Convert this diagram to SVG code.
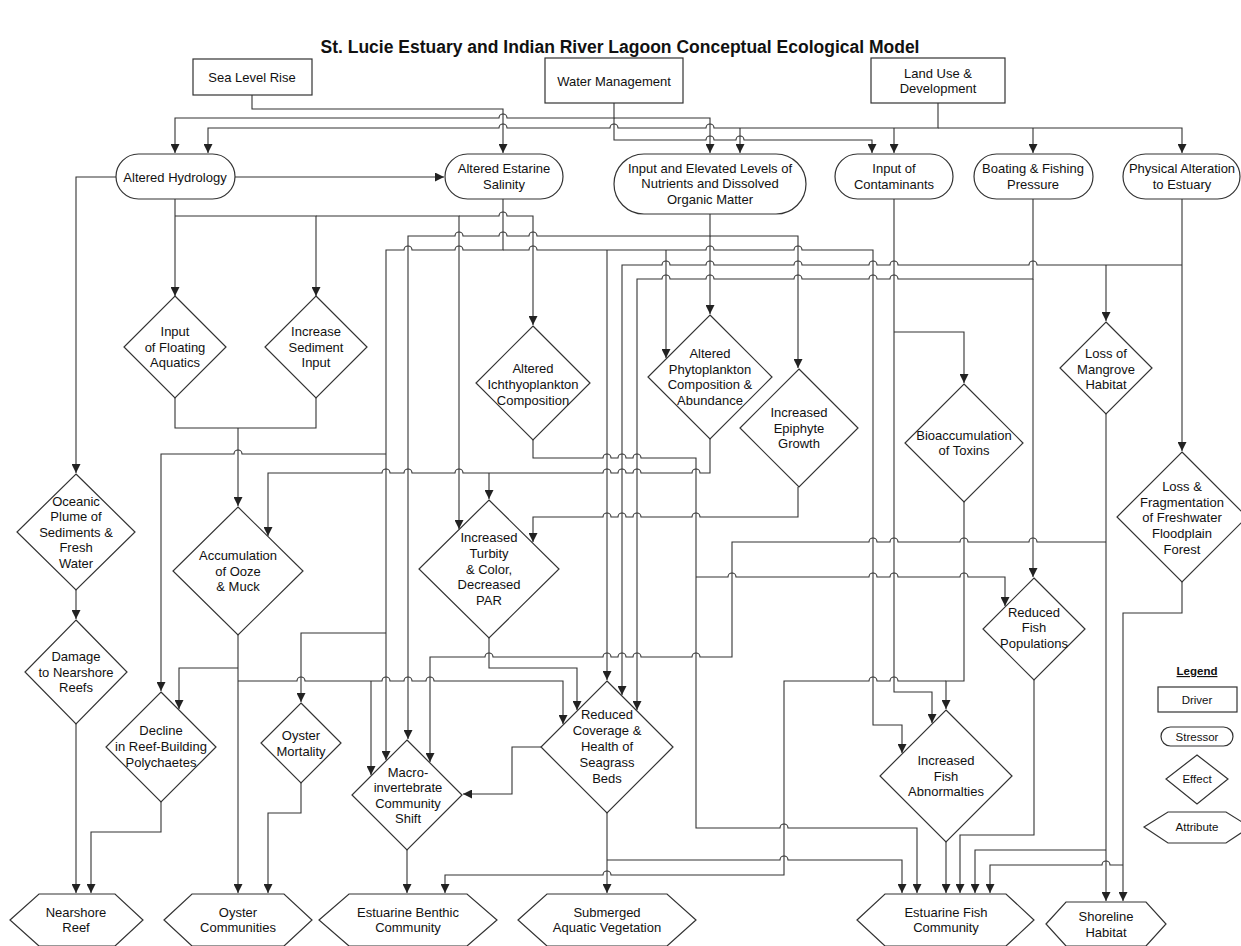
<svg xmlns="http://www.w3.org/2000/svg" width="1241" height="946" viewBox="0 0 1241 946">
<style>
.n{fill:#fff;stroke:#333;stroke-width:1.2}
.t{font-family:"Liberation Sans",Arial,sans-serif;font-size:13px;fill:#111;text-anchor:middle}
.lg{font-size:11.5px}
.c{fill:none;stroke:#333;stroke-width:1.1}
.a{marker-end:url(#ah)}
</style>
<defs>
<marker id="ah" viewBox="0 0 10 10" refX="10" refY="5" markerWidth="9" markerHeight="9" markerUnits="userSpaceOnUse" orient="auto"><path d="M0,0 L10,5 L0,10 z" fill="#222"/></marker>
</defs>
<rect width="1241" height="946" fill="#fff"/>
<text x="620" y="53" style="font-family:'Liberation Sans',Arial,sans-serif;font-size:17.5px;font-weight:bold;fill:#111;text-anchor:middle">St. Lucie Estuary and Indian River Lagoon Conceptual Ecological Model</text>

<g id="connectors">
<path class="c a" d="M252,95 V109 H503 V153"/>
<path class="c a" d="M614,103 V118 H507 a4,4 0 0 0 -8,0 H175 V153"/>
<path class="c a" d="M614,118 H710 V153"/>
<path class="c a" d="M614,118 V140 H706 a4,4 0 0 1 8,0 H736 a4,4 0 0 1 8,0 H872 V153"/>
<path class="c a" d="M938,103 V128 H714 a4,4 0 0 0 -8,0 H618 a4,4 0 0 0 -8,0 H507 a4,4 0 0 0 -8,0 H208 V153"/>
<path class="c a" d="M740,128 V153"/>
<path class="c a" d="M938,128 H1182 V153"/>
<path class="c a" d="M894,128 V153"/>
<path class="c a" d="M1033,128 V153"/>
<path class="c a" d="M235,177 H444"/>
<path class="c a" d="M116,177 H76 V473"/>
<path class="c a" d="M175,199 V296"/>
<path class="c a" d="M175,216 H316 V296"/>
<path class="c a" d="M316,216 H459 V529"/>
<path class="c a" d="M459,216 H499 a4,4 0 0 1 8,0 H533 V325"/>
<path class="c a" d="M503,199 V250 H463 a4,4 0 0 0 -8,0 H412 a4,4 0 0 0 -8,0 H386 V760"/>
<path class="c a" d="M386,454 H242 a4,4 0 0 0 -8,0 H161 V691"/>
<path class="c a" d="M386,633 H301 V702"/>
<path class="c a" d="M503,250 H529 a4,4 0 0 1 8,0 H706 a4,4 0 0 1 8,0 H794 a4,4 0 0 1 8,0 H873 V725 H902 V753"/>
<path class="c a" d="M607,250 V680"/>
<path class="c a" d="M666,250 V358"/>
<path class="c a" d="M710,214 V236 H537 a4,4 0 0 0 -8,0 H507 a4,4 0 0 0 -8,0 H463 a4,4 0 0 0 -8,0 H408 V739"/>
<path class="c a" d="M710,236 H798 V368"/>
<path class="c a" d="M710,236 V314"/>
<path class="c a" d="M1182,199 V451"/>
<path class="c a" d="M1182,265 H1037 a4,4 0 0 0 -8,0 H898 a4,4 0 0 0 -8,0 H877 a4,4 0 0 0 -8,0 H802 a4,4 0 0 0 -8,0 H714 a4,4 0 0 0 -8,0 H670 a4,4 0 0 0 -8,0 H622 V695"/>
<path class="c a" d="M1106,265 V321"/>
<path class="c a" d="M1033,199 V279 H898 a4,4 0 0 0 -8,0 H877 a4,4 0 0 0 -8,0 H802 a4,4 0 0 0 -8,0 H714 a4,4 0 0 0 -8,0 H670 a4,4 0 0 0 -8,0 H637 V710"/>
<path class="c a" d="M1033,279 V577"/>
<path class="c a" d="M894,199 V692 H932 V723"/>
<path class="c a" d="M894,332 H964 V383"/>
<path class="c a" d="M533,440 V458 H603 a4,4 0 0 1 8,0 H618 a4,4 0 0 1 8,0 H633 a4,4 0 0 1 8,0 H696 V828 H780 a4,4 0 0 1 8,0 H917 V893"/>
<path class="c a" d="M696,577 H728 a4,4 0 0 1 8,0 H869 a4,4 0 0 1 8,0 H890 a4,4 0 0 1 8,0 H960 a4,4 0 0 1 8,0 H1005 V606"/>
<path class="c a" d="M710,439 V473 H700 a4,4 0 0 0 -8,0 H641 a4,4 0 0 0 -8,0 H626 a4,4 0 0 0 -8,0 H611 a4,4 0 0 0 -8,0 H463 a4,4 0 0 0 -8,0 H412 a4,4 0 0 0 -8,0 H390 a4,4 0 0 0 -8,0 H268 V536"/>
<path class="c a" d="M489,473 V499"/>
<path class="c a" d="M798,487 V517 H700 a4,4 0 0 0 -8,0 H641 a4,4 0 0 0 -8,0 H626 a4,4 0 0 0 -8,0 H611 a4,4 0 0 0 -8,0 H533 V542"/>
<path class="c" d="M175,398 V428 H316 V398"/>
<path class="c a" d="M238,428 V506"/>
<path class="c a" d="M76,590 V619"/>
<path class="c a" d="M76,724 V893"/>
<path class="c a" d="M161,802 V832 H91 V893"/>
<path class="c a" d="M238,635 V893"/>
<path class="c a" d="M238,668 H179 V709"/>
<path class="c a" d="M238,681 H297 a4,4 0 0 1 8,0 H382 a4,4 0 0 1 8,0 H404 a4,4 0 0 1 8,0 H426 a4,4 0 0 1 8,0 H563 V724"/>
<path class="c a" d="M371,681 V775"/>
<path class="c a" d="M301,783 V813 H268 V893"/>
<path class="c a" d="M489,638 V668 H577 V710"/>
<path class="c a" d="M1106,414 V901"/>
<path class="c a" d="M1106,542 H1037 a4,4 0 0 0 -8,0 H968 a4,4 0 0 0 -8,0 H898 a4,4 0 0 0 -8,0 H877 a4,4 0 0 0 -8,0 H732 V657 H700 a4,4 0 0 0 -8,0 H641 a4,4 0 0 0 -8,0 H626 a4,4 0 0 0 -8,0 H611 a4,4 0 0 0 -8,0 H493 a4,4 0 0 0 -8,0 H430 V762"/>
<path class="c a" d="M1106,850 H975 V893"/>
<path class="c a" d="M1182,582 V613 H1123 V901"/>
<path class="c a" d="M1123,865 H1110 a4,4 0 0 0 -8,0 H990 V893"/>
<path class="c a" d="M964,502 V681 H946 V709"/>
<path class="c a" d="M946,681 H898 a4,4 0 0 0 -8,0 H877 a4,4 0 0 0 -8,0 H784 V875 H611 a4,4 0 0 0 -8,0 H445 V893"/>
<path class="c a" d="M607,813 V893"/>
<path class="c a" d="M607,860 H780 a4,4 0 0 1 8,0 H902 V893"/>
<path class="c a" d="M541,747 H512 V794 H463"/>
<path class="c a" d="M407,850 V893"/>
<path class="c a" d="M946,842 V893"/>
<path class="c a" d="M1034,680 V835 H960 V893"/>
</g>

<g id="sea-level-rise"><rect class="n" x="193" y="59" width="119" height="36"/><text class="t" x="252" y="82">Sea Level Rise</text></g>
<g id="water-management"><rect class="n" x="545" y="58" width="138" height="45"/><text class="t" x="614" y="86">Water Management</text></g>
<g id="land-use"><rect class="n" x="871" y="58" width="134" height="45"/><text class="t"><tspan x="938" y="78">Land Use &amp;</tspan><tspan x="938" y="93">Development</tspan></text></g>

<g id="altered-hydrology"><rect class="n" x="116" y="154" width="119" height="45" rx="22.5"/><text class="t" x="175" y="182">Altered Hydrology</text></g>
<g id="altered-salinity"><rect class="n" x="445" y="154" width="118" height="45" rx="22.5"/><text class="t"><tspan x="504" y="173">Altered Estarine</tspan><tspan x="504" y="189">Salinity</tspan></text></g>
<g id="nutrients"><rect class="n" x="614" y="154" width="192" height="60" rx="30"/><text class="t"><tspan x="710" y="173">Input and Elevated Levels of</tspan><tspan x="710" y="188">Nutrients and Dissolved</tspan><tspan x="710" y="204">Organic Matter</tspan></text></g>
<g id="contaminants"><rect class="n" x="835" y="154" width="118" height="45" rx="22.5"/><text class="t"><tspan x="894" y="173">Input of</tspan><tspan x="894" y="189">Contaminants</tspan></text></g>
<g id="boating"><rect class="n" x="974" y="154" width="119" height="45" rx="22.5"/><text class="t"><tspan x="1033" y="173">Boating &amp; Fishing</tspan><tspan x="1033" y="189">Pressure</tspan></text></g>
<g id="physical-alteration"><rect class="n" x="1123" y="154" width="117" height="45" rx="22.5"/><text class="t"><tspan x="1182" y="173">Physical Alteration</tspan><tspan x="1182" y="189">to Estuary</tspan></text></g>

<g id="floating-aquatics"><polygon class="n" points="175,296 226,347 175,398 124,347"/><text class="t"><tspan x="175" y="336">Input</tspan><tspan x="175" y="352">of Floating</tspan><tspan x="175" y="367">Aquatics</tspan></text></g>
<g id="sediment-input"><polygon class="n" points="316,296 367,347 316,398 265,347"/><text class="t"><tspan x="316" y="336">Increase</tspan><tspan x="316" y="352">Sediment</tspan><tspan x="316" y="367">Input</tspan></text></g>
<g id="ichthyoplankton"><polygon class="n" points="533,326 590,383 533,440 476,383"/><text class="t"><tspan x="533" y="373">Altered</tspan><tspan x="533" y="389">Ichthyoplankton</tspan><tspan x="533" y="405">Composition</tspan></text></g>
<g id="phytoplankton"><polygon class="n" points="710,315 772,377 710,439 648,377"/><text class="t"><tspan x="710" y="358">Altered</tspan><tspan x="710" y="374">Phytoplankton</tspan><tspan x="710" y="389">Composition &amp;</tspan><tspan x="710" y="405">Abundance</tspan></text></g>
<g id="epiphyte"><polygon class="n" points="799,369 858,428 799,487 740,428"/><text class="t"><tspan x="799" y="417">Increased</tspan><tspan x="799" y="433">Epiphyte</tspan><tspan x="799" y="448">Growth</tspan></text></g>
<g id="mangrove"><polygon class="n" points="1106,322 1152,368 1106,414 1060,368"/><text class="t"><tspan x="1106" y="358">Loss of</tspan><tspan x="1106" y="374">Mangrove</tspan><tspan x="1106" y="389">Habitat</tspan></text></g>
<g id="bioaccumulation"><polygon class="n" points="964,384 1023,443 964,502 905,443"/><text class="t"><tspan x="964" y="440">Bioaccumulation</tspan><tspan x="964" y="455">of Toxins</tspan></text></g>
<g id="floodplain"><polygon class="n" points="1182,452 1247,517 1182,582 1117,517"/><text class="t"><tspan x="1182" y="491">Loss &amp;</tspan><tspan x="1182" y="507">Fragmentation</tspan><tspan x="1182" y="522">of Freshwater</tspan><tspan x="1182" y="538">Floodplain</tspan><tspan x="1182" y="554">Forest</tspan></text></g>
<g id="oceanic-plume"><polygon class="n" points="76,474 135,532 76,590 17,532"/><text class="t"><tspan x="76" y="506">Oceanic</tspan><tspan x="76" y="521">Plume of</tspan><tspan x="76" y="537">Sediments &amp;</tspan><tspan x="76" y="552">Fresh</tspan><tspan x="76" y="568">Water</tspan></text></g>
<g id="ooze-muck"><polygon class="n" points="238,507 303,571 238,635 173,571"/><text class="t"><tspan x="238" y="560">Accumulation</tspan><tspan x="238" y="576">of Ooze</tspan><tspan x="238" y="591">&amp; Muck</tspan></text></g>
<g id="turbidity"><polygon class="n" points="489,500 559,569 489,638 419,569"/><text class="t"><tspan x="489" y="542">Increased</tspan><tspan x="489" y="558">Turbity</tspan><tspan x="489" y="574">&amp; Color,</tspan><tspan x="489" y="589">Decreased</tspan><tspan x="489" y="605">PAR</tspan></text></g>
<g id="reduced-fish"><polygon class="n" points="1034,578 1085,629 1034,680 983,629"/><text class="t"><tspan x="1034" y="617">Reduced</tspan><tspan x="1034" y="632">Fish</tspan><tspan x="1034" y="648">Populations</tspan></text></g>
<g id="damage-reefs"><polygon class="n" points="76,620 127,672 76,724 25,672"/><text class="t"><tspan x="76" y="661">Damage</tspan><tspan x="76" y="677">to Nearshore</tspan><tspan x="76" y="692">Reefs</tspan></text></g>
<g id="polychaetes"><polygon class="n" points="161,692 216,747 161,802 106,747"/><text class="t"><tspan x="161" y="735">Decline</tspan><tspan x="161" y="751">in Reef-Building</tspan><tspan x="161" y="767">Polychaetes</tspan></text></g>
<g id="oyster-mortality"><polygon class="n" points="301,703 341,743 301,783 261,743"/><text class="t"><tspan x="301" y="740">Oyster</tspan><tspan x="301" y="756">Mortality</tspan></text></g>
<g id="macroinvertebrate"><polygon class="n" points="407,740 462,795 407,850 352,795"/><text class="t"><tspan x="408" y="777">Macro-</tspan><tspan x="408" y="792">invertebrate</tspan><tspan x="408" y="808">Community</tspan><tspan x="408" y="823">Shift</tspan></text></g>
<g id="seagrass"><polygon class="n" points="607,681 673,747 607,813 541,747"/><text class="t"><tspan x="607" y="719">Reduced</tspan><tspan x="607" y="735">Coverage &amp;</tspan><tspan x="607" y="751">Health of</tspan><tspan x="607" y="767">Seagrass</tspan><tspan x="607" y="783">Beds</tspan></text></g>
<g id="fish-abnormalities"><polygon class="n" points="946,710 1012,776 946,842 880,776"/><text class="t"><tspan x="946" y="765">Increased</tspan><tspan x="946" y="781">Fish</tspan><tspan x="946" y="796">Abnormalties</tspan></text></g>

<g id="nearshore-reef"><polygon class="n" points="10,920 39,894 115,894 143,920 115,946 39,946"/><text class="t"><tspan x="76" y="917">Nearshore</tspan><tspan x="76" y="932">Reef</tspan></text></g>
<g id="oyster-communities"><polygon class="n" points="164,920 192,894 284,894 312,920 284,946 192,946"/><text class="t"><tspan x="238" y="917">Oyster</tspan><tspan x="238" y="932">Communities</tspan></text></g>
<g id="estuarine-benthic"><polygon class="n" points="319,920 349,894 467,894 497,920 467,946 349,946"/><text class="t"><tspan x="408" y="917">Estuarine Benthic</tspan><tspan x="408" y="932">Community</tspan></text></g>
<g id="sav"><polygon class="n" points="518,920 547,894 667,894 696,920 667,946 547,946"/><text class="t"><tspan x="607" y="917">Submerged</tspan><tspan x="607" y="932">Aquatic Vegetation</tspan></text></g>
<g id="estuarine-fish"><polygon class="n" points="857,920 885,894 1006,894 1034,920 1006,946 885,946"/><text class="t"><tspan x="946" y="917">Estuarine Fish</tspan><tspan x="946" y="932">Community</tspan></text></g>
<g id="shoreline"><polygon class="n" points="1046,924 1066,902 1146,902 1166,924 1146,946 1066,946"/><text class="t"><tspan x="1106" y="921">Shoreline</tspan><tspan x="1106" y="937">Habitat</tspan></text></g>

<g id="legend">
<text class="t lg" x="1197" y="675" style="font-weight:bold;text-decoration:underline">Legend</text>
<rect class="n" x="1158" y="687" width="79" height="25"/><text class="t lg" x="1197" y="704">Driver</text>
<rect class="n" x="1161" y="727" width="72" height="19" rx="9.5"/><text class="t lg" x="1197" y="741">Stressor</text>
<polygon class="n" points="1197,755 1228,779 1197,804 1166,779"/><text class="t lg" x="1197" y="783">Effect</text>
<polygon class="n" points="1144,827 1168,812 1226,812 1250,827 1226,843 1168,843"/><text class="t lg" x="1197" y="831">Attribute</text>
</g>
</svg>
